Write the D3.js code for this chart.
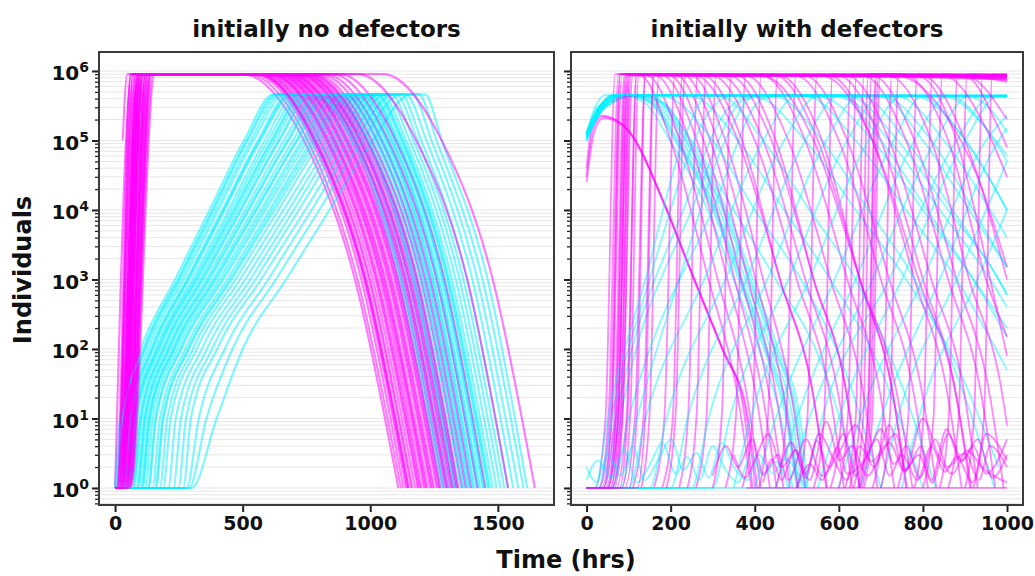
<!DOCTYPE html>
<html>
<head>
<meta charset="utf-8">
<script src="https://cdn.jsdelivr.net/npm/d3@7"></script>
<style>
  body { margin: 0; background: #fff; }
  svg text { font-family: "DejaVu Sans", sans-serif; font-weight: bold; fill: #111; }
</style>
</head>
<body>
<svg id="chart" width="1035" height="576"></svg>
<script>
// ---- panel 1: "initially no defectors" ----
// magenta rows: [leaves 1, reaches top, leaves top, at 1e5, at 1e3, back to 1]  (hrs)
const noDefCoop = [
  [5, 60, 500, 740, 940, 1110], [10, 70, 520, 755, 950, 1120], [0, 65, 540, 770, 965, 1130],
  [20, 80, 550, 780, 975, 1140], [15, 90, 560, 790, 985, 1150], [30, 85, 575, 800, 995, 1160],
  [25, 100, 580, 805, 1000, 1165], [40, 95, 590, 815, 1010, 1175], [8, 75, 600, 825, 1020, 1185],
  [35, 110, 610, 835, 1030, 1195], [45, 105, 615, 840, 1040, 1200], [12, 90, 625, 850, 1045, 1210],
  [50, 120, 630, 855, 1055, 1215], [22, 100, 640, 865, 1060, 1225], [55, 130, 650, 875, 1070, 1235],
  [18, 85, 655, 880, 1075, 1240], [38, 115, 665, 890, 1085, 1250], [28, 95, 675, 900, 1095, 1260],
  [60, 140, 680, 905, 1100, 1265], [42, 125, 690, 915, 1110, 1275], [6, 70, 700, 925, 1120, 1285],
  [48, 135, 710, 935, 1130, 1295], [33, 110, 720, 945, 1140, 1305], [52, 145, 730, 955, 1150, 1315],
  [26, 100, 740, 965, 1160, 1325], [58, 150, 750, 975, 1170, 1335], [14, 80, 765, 990, 1185, 1345],
  [44, 120, 780, 1005, 1200, 1360], [36, 105, 800, 1025, 1215, 1375], [56, 140, 820, 1045, 1235, 1395],
  [20, 95, 850, 1070, 1260, 1420], [46, 130, 880, 1100, 1290, 1450], [30, 110, 950, 1180, 1380, 1540],
  [62, 155, 1050, 1280, 1480, 1645],
  [10, 62, 560, 785, 980, 1145], [32, 88, 605, 830, 1025, 1190], [24, 98, 635, 860, 1050, 1220],
  [50, 118, 660, 885, 1080, 1245], [16, 92, 685, 910, 1105, 1270], [40, 128, 715, 940, 1135, 1300],
  [28, 108, 735, 960, 1155, 1320], [54, 138, 760, 985, 1180, 1340]
];
const noDefCoopLevels = [1, 9e5, 9e5, 1e5, 1e3, 1];

// cyan rows: [leaves 1, at 1e1, at 1e2, at 1e3, at 1e4, at 1e5, reaches peak, leaves peak, at 1e5, at 1e3, back to 1]
const noDefDefect = [
  [0, 19, 100, 235, 370, 505, 620, 760, 930, 1110, 1275], [4, 34, 115, 250, 385, 520, 640, 780, 945, 1125, 1290],
  [7, 37, 120, 258, 395, 533, 650, 800, 960, 1140, 1300], [17, 47, 130, 268, 405, 543, 665, 810, 970, 1150, 1310],
  [26, 56, 140, 280, 420, 560, 680, 830, 985, 1165, 1325], [36, 66, 150, 290, 430, 570, 695, 845, 995, 1175, 1335],
  [45, 75, 160, 302, 445, 587, 710, 860, 1005, 1185, 1345], [48, 78, 165, 310, 455, 600, 725, 870, 1015, 1195, 1355],
  [57, 87, 175, 322, 470, 617, 740, 885, 1030, 1210, 1370], [67, 97, 185, 332, 480, 627, 755, 895, 1040, 1220, 1380],
  [75, 105, 195, 345, 495, 645, 770, 910, 1050, 1230, 1390], [84, 114, 205, 357, 510, 662, 790, 925, 1060, 1240, 1400],
  [92, 122, 215, 370, 525, 680, 805, 940, 1070, 1250, 1410], [101, 131, 225, 382, 540, 697, 820, 955, 1080, 1260, 1420],
  [109, 139, 235, 395, 555, 715, 840, 970, 1090, 1270, 1430], [118, 148, 245, 407, 570, 732, 860, 985, 1100, 1280, 1440],
  [131, 161, 260, 425, 590, 755, 880, 1000, 1110, 1290, 1450], [146, 176, 275, 440, 605, 770, 900, 1015, 1120, 1300, 1460],
  [160, 190, 290, 457, 625, 792, 920, 1030, 1130, 1310, 1470], [175, 205, 305, 472, 640, 807, 940, 1045, 1140, 1320, 1480],
  [188, 218, 320, 490, 660, 830, 960, 1060, 1155, 1335, 1495], [208, 238, 340, 510, 680, 850, 985, 1080, 1170, 1350, 1510],
  [228, 258, 360, 530, 700, 870, 1010, 1100, 1185, 1365, 1525], [248, 278, 380, 550, 720, 890, 1035, 1120, 1200, 1380, 1540],
  [267, 297, 400, 572, 745, 917, 1060, 1140, 1220, 1400, 1560], [280, 328, 430, 600, 770, 940, 1090, 1165, 1240, 1420, 1580],
  [290, 358, 460, 630, 800, 970, 1120, 1190, 1260, 1440, 1600], [300, 398, 500, 670, 840, 1010, 1160, 1215, 1280, 1460, 1615],
  [31, 61, 145, 285, 425, 565, 690, 835, 990, 1170, 1330], [52, 82, 170, 317, 465, 612, 735, 880, 1025, 1205, 1365],
  [70, 100, 190, 340, 490, 640, 765, 905, 1045, 1225, 1385], [87, 117, 210, 365, 520, 675, 800, 935, 1065, 1245, 1405],
  [104, 134, 230, 390, 550, 710, 830, 960, 1085, 1265, 1425], [128, 158, 255, 417, 580, 742, 870, 995, 1105, 1285, 1445],
  [0, 29, 110, 245, 380, 515, 630, 770, 940, 1120, 1285], [156, 186, 285, 450, 615, 780, 910, 1025, 1125, 1305, 1465]
];
const noDefDefectLevels = [1, 10, 100, 1e3, 1e4, 1e5, 4.6e5, 4.6e5, 1e5, 1e3, 1];

// odd one that starts high
const noDefCoopExtra = [[30, 1e5], [36, 3e5], [48, 9e5], [560, 9e5], [780, 1e5], [980, 1e3], [1150, 1]];

// ---- panel 2: "initially with defectors" ---- [hrs, individuals]
const withDefCoop = [
  [[0, 4e4], [12, 1.5e5], [35, 2.3e5], [90, 1.6e5], [181, 1.4e4], [230, 2500], [270, 600], [320, 110], [370, 18], [395, 1]],
  [[0, 3e4], [15, 1.4e5], [38, 2.2e5], [95, 1.5e5], [186, 1.2e4], [235, 2100], [276, 500], [326, 90], [376, 15], [402, 1]],
  [[0, 2.5e4], [18, 1.3e5], [40, 2.1e5], [98, 1.4e5], [190, 1e4], [238, 1900], [280, 450], [330, 80], [380, 14], [406, 1]],
  [[0, 1], [40, 1], [60, 12], [80, 9e5], [1000, 9e5]],
  [[0, 1], [50, 1], [70, 12], [92, 8.6e5], [1000, 8.4e5]],
  [[0, 1], [62, 1], [82, 12], [102, 9e5], [1000, 8.8e5]],
  [[0, 1], [78, 1], [98, 12], [118, 8.8e5], [1000, 8e5]],
  [[0, 1], [100, 1], [120, 12], [140, 9e5], [1000, 8.7e5]],
  [[130, 1], [150, 12], [172, 8.8e5], [1000, 7.6e5]],
  [[220, 1], [242, 12], [264, 9e5], [1000, 7.8e5]],
  [[0, 1], [20, 1], [45, 10], [68, 9e5], [128, 8.6e5], [200, 1e5], [290, 1e3], [360, 20], [392, 1]],
  [[0, 1], [28, 1], [52, 10], [76, 9e5], [145, 8.6e5], [222, 1e5], [312, 1e3], [382, 20], [414, 1]],
  [[0, 1], [35, 1], [60, 10], [84, 9e5], [165, 8.6e5], [245, 1e5], [335, 1e3], [404, 20], [436, 1]],
  [[0, 1], [30, 1], [56, 10], [80, 9e5], [182, 8.6e5], [262, 1e5], [352, 1e3], [420, 20], [452, 1]],
  [[0, 1], [45, 1], [70, 10], [94, 9e5], [198, 8.6e5], [278, 1e5], [368, 1e3], [436, 20], [468, 1]],
  [[0, 1], [40, 1], [66, 10], [90, 9e5], [214, 8.6e5], [294, 1e5], [384, 1e3], [452, 20], [484, 1]],
  [[0, 1], [55, 1], [80, 10], [104, 9e5], [232, 8.6e5], [312, 1e5], [402, 1e3], [470, 20], [502, 1]],
  [[0, 1], [48, 1], [74, 10], [98, 9e5], [250, 8.6e5], [330, 1e5], [420, 1e3], [488, 20], [520, 1]],
  [[0, 1], [60, 1], [85, 10], [110, 9e5], [300, 8.5e5], [400, 1e5], [500, 1e3], [580, 20], [612, 1]],
  [[0, 1], [90, 1], [115, 10], [140, 9e5], [380, 8.5e5], [480, 1e5], [580, 1e3], [660, 20], [692, 1]],
  [[110, 1], [135, 10], [160, 9e5], [450, 8.5e5], [550, 1e5], [650, 1e3], [730, 20], [762, 1]],
  [[0, 1], [50, 1], [75, 10], [100, 9e5], [520, 8.5e5], [620, 1e5], [720, 1e3], [800, 20], [832, 1]],
  [[160, 1], [185, 10], [210, 9e5], [600, 8.5e5], [700, 1e5], [800, 1e3], [880, 20], [912, 1]],
  [[0, 1], [70, 1], [95, 10], [120, 9e5], [680, 8.5e5], [780, 1e5], [880, 1e3], [960, 20], [992, 1]],
  [[180, 1], [205, 10], [228, 9e5], [320, 8.5e5], [420, 1e5], [520, 1e3], [600, 20], [632, 1]],
  [[260, 1], [285, 10], [308, 9e5], [420, 8.5e5], [520, 1e5], [620, 1e3], [700, 20], [732, 1]],
  [[330, 1], [355, 10], [378, 9e5], [500, 8.5e5], [600, 1e5], [700, 1e3], [780, 20], [812, 1]],
  [[450, 1], [475, 10], [498, 9e5], [580, 8.5e5], [680, 1e5], [780, 1e3], [860, 20], [892, 1]],
  [[500, 1], [525, 10], [548, 9e5], [660, 8.5e5], [760, 1e5], [860, 1e3], [940, 20], [972, 1]],
  [[370, 1], [395, 10], [415, 9e5], [1000, 8e5]],
  [[540, 1], [565, 10], [585, 9e5], [1000, 8.2e5]],
  [[580, 1], [606, 10], [628, 9e5], [740, 8.6e5], [850, 2.5e5], [930, 3e4], [1000, 1.5e3]],
  [[615, 1], [640, 10], [660, 9e5], [1000, 8.8e5]],
  [[625, 1], [650, 10], [670, 9e5], [800, 8.5e5], [900, 1e5], [1000, 1e3]],
  [[635, 1], [658, 10], [678, 9e5], [850, 8.5e5], [950, 1.5e5], [1000, 3e4]],
  [[645, 1], [668, 10], [688, 9e5], [1000, 7.4e5]],
  [[680, 1], [705, 10], [726, 9e5], [790, 8.5e5], [880, 1e5], [960, 1e3], [1000, 80]],
  [[740, 1], [765, 10], [786, 9e5], [1000, 7.8e5]],
  [[800, 1], [825, 10], [846, 9e5], [1000, 7e5]],
  [[860, 1], [885, 10], [905, 9e5], [1000, 8.6e5]],
  [[920, 1], [945, 10], [965, 9e5], [1000, 9e5]],
  [[0, 1], [58, 1], [76, 12], [96, 8.7e5], [420, 8.4e5], [540, 1e5], [650, 1e3], [740, 20], [775, 1]],
  [[0, 1], [66, 1], [86, 12], [106, 8.9e5], [560, 8.5e5], [680, 1e5], [790, 1e3], [880, 20], [915, 1]],
  [[0, 1], [84, 1], [104, 12], [124, 8.8e5], [260, 8.5e5], [360, 1e5], [460, 1e3], [540, 20], [572, 1]],
  [[0, 1], [120, 1], [140, 12], [160, 8.8e5], [340, 8.5e5], [440, 1e5], [540, 1e3], [620, 20], [650, 1]],
  [[190, 1], [212, 12], [234, 8.8e5], [280, 8.5e5], [370, 1e5], [460, 1e3], [540, 20], [570, 1]],
  [[240, 1], [262, 12], [284, 8.8e5], [360, 8.5e5], [450, 1e5], [540, 1e3], [620, 20], [650, 1]],
  [[300, 1], [322, 12], [344, 8.8e5], [460, 8.5e5], [560, 1e5], [650, 1e3], [730, 20], [760, 1]],
  [[410, 1], [432, 12], [454, 8.8e5], [620, 8.5e5], [720, 1e5], [820, 1e3], [900, 20], [930, 1]],
  [[600, 1], [622, 12], [642, 8.8e5], [720, 8.5e5], [820, 1e5], [910, 1e3], [990, 20], [1000, 8]],
  [[650, 1], [670, 12], [690, 8.9e5], [900, 8.6e5], [1000, 2e5]],
  [[655, 1], [675, 12], [694, 8.7e5], [1000, 8.5e5]],
  [[660, 1], [680, 12], [698, 8.8e5], [760, 8.5e5], [860, 1e5], [950, 1e3], [1000, 150]],
  [[700, 1], [722, 12], [742, 8.8e5], [1000, 8.6e5]],
  [[780, 1], [802, 12], [822, 8.8e5], [900, 8.5e5], [980, 1.5e5], [1000, 8e4]],
  [[840, 1], [862, 12], [882, 8.8e5], [1000, 8.3e5]],
  [[900, 1], [922, 12], [942, 8.8e5], [1000, 8.7e5]],
  [[380, 1], [1000, 1]],
  [[420, 1.2], [441, 2.6], [463, 1.3], [497, 3.5], [520, 1.4], [548, 4.8], [575, 2], [611, 6], [640, 1.5], [668, 3], [700, 7], [731, 2.2], [760, 4], [792, 1.4], [830, 5], [858, 2], [900, 3.2], [933, 1.3], [960, 4], [1000, 2]],
  [[460, 2], [487, 4.5], [520, 1.6], [553, 6], [590, 2.4], [618, 1.3], [650, 4], [684, 2], [720, 8], [756, 1.8], [790, 3], [822, 1.2], [860, 6], [894, 2.5], [930, 5], [965, 1.4], [1000, 3]],
  [[500, 1], [531, 2.2], [560, 1.3], [597, 3.8], [620, 1.6], [659, 2.4], [690, 5], [721, 1.5], [750, 3], [787, 1.3], [820, 4], [852, 1.7], [880, 2.8], [918, 1.2], [950, 6], [1000, 2.5]],
  [[350, 3], [378, 1.4], [400, 2.5], [432, 6], [465, 2], [497, 3.5], [530, 1.3], [570, 9], [603, 2.5], [630, 4], [668, 1.5], [700, 3], [735, 6], [760, 1.8], [795, 4], [820, 1.3], [856, 7], [890, 2.4], [920, 4], [950, 1.6], [1000, 5]],
  [[300, 1.5], [332, 4], [360, 2], [394, 5], [420, 1.6], [455, 3], [480, 1.3], [522, 5], [560, 1.5], [600, 3.2], [640, 8], [678, 2.4], [720, 4.5], [757, 1.7], [800, 10], [836, 3], [870, 1.6], [905, 3.5], [940, 2], [1000, 1.2]]
];

const withDefDefect = [
  [[0, 1.2e5], [15, 2.5e5], [45, 4.5e5], [1000, 4.5e5]],
  [[0, 1e5], [22, 2.3e5], [60, 4.4e5], [1000, 4.2e5]],
  [[0, 1], [40, 1], [70, 10], [230, 1e4], [340, 3e5], [400, 4.5e5], [1000, 4.4e5]],
  [[0, 1.3e5], [25, 3e5], [80, 4.5e5], [138, 3.5e5], [198, 1e5], [288, 1e4], [350, 1e3], [410, 100], [462, 10], [490, 1]],
  [[0, 1.3e5], [30, 3e5], [90, 4.5e5], [150, 3.5e5], [210, 1e5], [300, 1e4], [362, 1e3], [422, 100], [474, 10], [500, 1]],
  [[0, 1.2e5], [34, 3e5], [98, 4.5e5], [158, 3.5e5], [218, 1e5], [308, 1e4], [370, 1e3], [430, 100], [482, 10], [506, 1]],
  [[0, 1.2e5], [38, 3e5], [106, 4.5e5], [166, 3.5e5], [226, 1e5], [316, 1e4], [378, 1e3], [438, 100], [490, 10], [512, 1]],
  [[0, 1.1e5], [42, 3e5], [114, 4.5e5], [174, 3.5e5], [234, 1e5], [324, 1e4], [386, 1e3], [446, 100], [498, 10], [518, 1]],
  [[0, 1.1e5], [46, 3e5], [124, 4.5e5], [184, 3.5e5], [244, 1e5], [334, 1e4], [396, 1e3], [456, 100], [508, 10], [526, 1]],
  [[0, 1.25e5], [32, 3e5], [94, 4.5e5], [154, 3.5e5], [214, 1e5], [304, 1e4], [366, 1e3], [426, 100], [478, 10], [503, 1]],
  [[0, 1.15e5], [44, 3e5], [118, 4.5e5], [178, 3.5e5], [238, 1e5], [328, 1e4], [390, 1e3], [450, 100], [502, 10], [522, 1]],
  [[0, 1.2e5], [30, 3e5], [60, 4.5e5], [150, 4.4e5], [250, 1e5], [350, 1e4], [450, 1e3], [560, 60], [650, 1]],
  [[0, 1.1e5], [35, 3e5], [70, 4.5e5], [250, 4.3e5], [360, 1e5], [470, 1e4], [580, 1e3], [700, 50], [800, 1]],
  [[0, 1e5], [40, 3e5], [80, 4.5e5], [400, 4.3e5], [520, 1e5], [640, 1e4], [760, 1e3], [880, 60], [980, 2]],
  [[0, 1], [50, 1], [80, 10], [250, 1e4], [380, 4e5], [460, 4.5e5], [560, 4.2e5], [680, 1e5], [800, 1e4], [920, 1e3], [1000, 200]],
  [[0, 1], [30, 1], [60, 10], [150, 1e3], [300, 3e5], [350, 4.5e5], [600, 4.4e5], [720, 1e5], [840, 1e4], [960, 1e3], [1000, 400]],
  [[0, 1.2e5], [40, 3e5], [90, 4.5e5], [700, 4.4e5], [820, 1e5], [920, 1e4], [1000, 1.5e3]],
  [[0, 1.1e5], [40, 3e5], [90, 4.5e5], [780, 4.4e5], [880, 1.5e5], [1000, 1e4]],
  [[0, 1], [60, 1], [100, 10], [300, 1e4], [420, 4e5], [480, 4.5e5], [850, 4.3e5], [950, 1.5e5], [1000, 6e4]],
  [[0, 1.3e5], [30, 3e5], [75, 4.5e5], [180, 4.4e5], [300, 1e5], [400, 1e4], [510, 1e3], [620, 40], [700, 1]],
  [[0, 1], [300, 1], [340, 10], [480, 1e3], [620, 1e5], [700, 4.4e5], [1000, 4.3e5]],
  [[400, 1], [450, 10], [590, 1e3], [730, 1e5], [800, 4.4e5], [1000, 4.3e5]],
  [[450, 1], [500, 10], [640, 1e3], [780, 1e5], [860, 4.4e5], [1000, 4.4e5]],
  [[480, 1], [530, 10], [680, 1e3], [830, 1e5], [910, 4.4e5], [1000, 4.4e5]],
  [[520, 1], [560, 10], [720, 1e3], [880, 1e5], [960, 4.2e5], [1000, 4.3e5]],
  [[600, 1], [650, 10], [800, 1e3], [950, 1e5], [1000, 2.3e5]],
  [[700, 1], [740, 10], [880, 1e3], [1000, 5e4]],
  [[0, 1], [200, 1], [240, 10], [380, 1e3], [520, 1e5], [600, 4.4e5], [650, 4.4e5], [760, 1e5], [870, 1e4], [980, 1e3], [1000, 600]],
  [[0, 1], [150, 1], [190, 10], [330, 1e3], [470, 1e5], [550, 4.4e5], [600, 4.3e5], [700, 1e5], [810, 1e4], [920, 1e3], [1000, 150]],
  [[0, 1.1e5], [30, 3e5], [70, 4.5e5], [520, 4.4e5], [640, 1e5], [760, 1e4], [880, 1e3], [1000, 50]],
  [[0, 1.2e5], [30, 3e5], [70, 4.5e5], [860, 4.4e5], [950, 1.5e5], [1000, 5e4]],
  [[0, 1.3e5], [30, 3e5], [70, 4.5e5], [900, 4.4e5], [980, 2e5], [1000, 1.3e5]],
  [[0, 1e5], [35, 3e5], [75, 4.5e5], [620, 4.4e5], [740, 1e5], [860, 1e4], [980, 1e3], [1000, 600]],
  [[0, 1], [100, 1], [140, 10], [280, 1e3], [420, 1e5], [500, 4.4e5], [740, 4.3e5], [850, 1e5], [960, 1e4], [1000, 4e3]],
  [[0, 1], [250, 1], [290, 10], [430, 1e3], [570, 1e5], [650, 4.4e5], [700, 4.3e5], [800, 1e5], [910, 1e4], [1000, 1.5e3]],
  [[350, 1], [390, 10], [530, 1e3], [670, 1e5], [750, 4.4e5], [800, 4.3e5], [900, 1e5], [1000, 1e4]],
  [[550, 1], [600, 10], [750, 1e3], [900, 1e5], [980, 4.4e5], [1000, 4.4e5]],
  [[650, 1], [700, 10], [840, 1e3], [980, 1e5], [1000, 1.5e5]],
  [[750, 1], [790, 10], [930, 1e3], [1000, 1e4]],
  [[0, 1], [20, 1], [50, 10], [140, 1e3], [230, 1e5], [290, 4.4e5], [320, 4.3e5], [420, 1e5], [530, 1e4], [640, 1e3], [760, 20], [830, 1]],
  [[0, 1], [80, 1], [120, 10], [220, 1e3], [330, 1e5], [400, 4.4e5], [450, 4.3e5], [560, 1e5], [670, 1e4], [780, 1e3], [900, 20], [970, 1]],
  [[0, 1], [480, 1]],
  [[0, 1.3], [27, 2.5], [60, 1.4], [88, 3.6], [120, 1.2], [151, 2.2], [180, 4.5], [212, 1.6], [240, 2.8], [268, 1.3], [300, 4], [331, 1.8], [360, 1.2], [392, 3], [420, 1.5], [450, 2.4], [480, 1]],
  [[0, 2], [24, 1.2], [50, 3], [82, 1.5], [110, 4], [138, 1.3], [170, 2.5], [201, 5], [230, 1.8], [262, 3.2], [290, 1.4], [322, 4.5], [350, 2], [383, 1.3], [410, 3], [443, 1.6], [470, 2.6], [520, 1]]
];

const panelTitles = ['initially no defectors', 'initially with defectors'];
const leftTicks = [0, 500, 1000, 1500];
const rightTicks = [0, 200, 400, 600, 800, 1000];
const decades = [0, 1, 2, 3, 4, 5, 6];

const coopColor = '#ff00ff';
const defColor = '#00f0ff';

// rows of crossing times -> [hrs, individuals]
function fromRow(row, levels) {
  const pts = row.map((t, i) => [t, levels[i]]);
  if (row[0] > 0) pts.unshift([0, levels[0]]);
  return pts;
}

const panelOne = {
  coop: noDefCoop.map(r => fromRow(r, noDefCoopLevels)).concat([noDefCoopExtra]),
  defect: noDefDefect.map(r => fromRow(r, noDefDefectLevels))
};
const panelTwo = { coop: withDefCoop, defect: withDefDefect };

const svg = d3.select('#chart');
const plotTop = 52, plotBottom = 505;

const y = d3.scaleLog().domain([Math.pow(10, -0.245), Math.pow(10, 6.273)]).range([plotBottom, plotTop]);

const panels = [
  { data: panelOne, x: d3.scaleLinear().domain([-63, 1720]).range([99, 554]), ticks: leftTicks, labels: true, title: panelTitles[0], w: 2.1, op: 0.52 },
  { data: panelTwo, x: d3.scaleLinear().domain([-37, 1038]).range([571, 1023]), ticks: rightTicks, labels: false, title: panelTitles[1], w: 1.8, op: 0.47 }
];

const minorVals = [];
for (let e = -1; e <= 6; e++) {
  for (let k = 1; k <= 9; k++) {
    const v = k * Math.pow(10, e);
    if (v >= y.domain()[0] && v <= y.domain()[1]) minorVals.push(v);
  }
}

panels.forEach((p, pi) => {
  const [x0, x1] = p.x.range();
  const g = svg.append('g');

  g.append('defs').append('clipPath').attr('id', 'clip' + pi)
    .append('rect').attr('x', x0).attr('y', plotTop).attr('width', x1 - x0).attr('height', plotBottom - plotTop);

  // faint horizontal guides
  g.append('g').selectAll('line').data(minorVals).join('line')
    .attr('x1', x0).attr('x2', x1)
    .attr('y1', d => y(d)).attr('y2', d => y(d))
    .attr('stroke', '#e6e6e6').attr('stroke-width', 1);

  const line = d3.line().x(d => p.x(d[0])).y(d => y(d[1])).curve(d3.curveMonotoneX);

  // interleave the two colours so neither sits fully on top
  const series = [];
  const n = Math.max(p.data.coop.length, p.data.defect.length);
  for (let i = 0; i < n; i++) {
    if (p.data.defect[i]) series.push({ pts: p.data.defect[i], c: defColor });
    if (p.data.coop[i]) series.push({ pts: p.data.coop[i], c: coopColor });
  }

  g.append('g').attr('clip-path', `url(#clip${pi})`)
    .selectAll('path').data(series).join('path')
    .attr('d', d => line(d.pts))
    .attr('fill', 'none')
    .attr('stroke', d => d.c)
    .attr('stroke-width', p.w)
    .attr('stroke-opacity', p.op)
    .attr('stroke-linejoin', 'round');

  // frame
  g.append('rect').attr('x', x0).attr('y', plotTop).attr('width', x1 - x0).attr('height', plotBottom - plotTop)
    .attr('fill', 'none').attr('stroke', '#3a3a3a').attr('stroke-width', 2);

  // y axis: minor + major ticks
  const yMinor = g.append('g').attr('transform', `translate(${x0 - 1},0)`)
    .call(d3.axisLeft(y).tickValues(minorVals).tickSize(3).tickFormat(''));
  yMinor.select('.domain').remove();
  yMinor.selectAll('line').attr('stroke', '#222').attr('stroke-width', 1.3);

  const yMajor = g.append('g').attr('transform', `translate(${x0 - 1},0)`)
    .call(d3.axisLeft(y).tickValues(decades.map(e => Math.pow(10, e))).tickSize(6).tickFormat(''));
  yMajor.select('.domain').remove();
  yMajor.selectAll('line').attr('stroke', '#222').attr('stroke-width', 2);

  if (p.labels) {
    yMajor.selectAll('.tick').each(function (d) {
      const t = d3.select(this).append('text')
        .attr('x', -9).attr('dy', '0.45em')
        .attr('text-anchor', 'end')
        .style('font-size', '20px');
      t.append('tspan').text('10');
      t.append('tspan').attr('dy', '-0.6em').style('font-size', '14px').text(Math.round(Math.log10(d)));
    });
  }

  // x axis
  const xa = g.append('g').attr('transform', `translate(0,${plotBottom + 1})`)
    .call(d3.axisBottom(p.x).tickValues(p.ticks).tickFormat(d3.format('d')).tickSize(6).tickPadding(5));
  xa.select('.domain').remove();
  xa.selectAll('line').attr('stroke', '#222').attr('stroke-width', 2);
  xa.selectAll('text').style('font-size', '19px').attr('fill', '#111');

  svg.append('text').attr('x', (x0 + x1) / 2).attr('y', 37)
    .attr('text-anchor', 'middle').style('font-size', '23px').text(p.title);
});

svg.append('text').attr('x', 566).attr('y', 568)
  .attr('text-anchor', 'middle').style('font-size', '24px').text('Time (hrs)');

svg.append('text')
  .attr('transform', 'translate(31,270) rotate(-90)')
  .attr('text-anchor', 'middle').style('font-size', '24px').text('Individuals');
</script>
</body>
</html>
